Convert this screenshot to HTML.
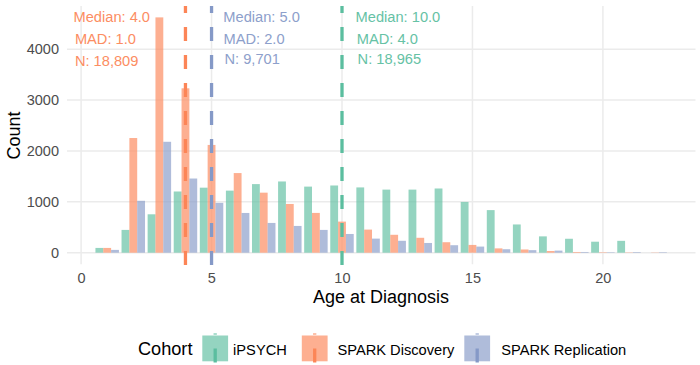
<!DOCTYPE html>
<html lang="en"><head><meta charset="utf-8"><title>Age at Diagnosis</title>
<style>html,body{margin:0;padding:0;background:#fff}svg{display:block}text{font-family:"Liberation Sans",sans-serif}</style></head><body>
<svg width="700" height="365" viewBox="0 0 700 365">
<rect width="700" height="365" fill="#fff"/>
<g stroke="#ebebeb" stroke-width="1.5" fill="none">
<line x1="67.0" x2="695.5" y1="252.70" y2="252.70"/>
<line x1="67.0" x2="695.5" y1="201.82" y2="201.82"/>
<line x1="67.0" x2="695.5" y1="150.94" y2="150.94"/>
<line x1="67.0" x2="695.5" y1="100.06" y2="100.06"/>
<line x1="67.0" x2="695.5" y1="49.18" y2="49.18"/>
<line y1="6.0" y2="264.3" x1="81.10" x2="81.10"/>
<line y1="6.0" y2="264.3" x1="211.55" x2="211.55"/>
<line y1="6.0" y2="264.3" x1="342.00" x2="342.00"/>
<line y1="6.0" y2="264.3" x1="472.45" x2="472.45"/>
<line y1="6.0" y2="264.3" x1="602.90" x2="602.90"/>
</g>
<g fill="#66C2A5" fill-opacity="0.7">
<rect x="95.45" y="247.92" width="7.83" height="4.78"/>
<rect x="121.54" y="229.91" width="7.83" height="22.79"/>
<rect x="147.63" y="214.29" width="7.83" height="38.41"/>
<rect x="173.72" y="191.49" width="7.83" height="61.21"/>
<rect x="199.81" y="187.68" width="7.83" height="65.02"/>
<rect x="225.90" y="190.63" width="7.83" height="62.07"/>
<rect x="251.99" y="184.11" width="7.83" height="68.59"/>
<rect x="278.08" y="181.47" width="7.83" height="71.23"/>
<rect x="304.17" y="186.61" width="7.83" height="66.09"/>
<rect x="330.26" y="185.49" width="7.83" height="67.21"/>
<rect x="356.35" y="187.42" width="7.83" height="65.28"/>
<rect x="382.44" y="189.61" width="7.83" height="63.09"/>
<rect x="408.53" y="189.61" width="7.83" height="63.09"/>
<rect x="434.62" y="188.49" width="7.83" height="64.21"/>
<rect x="460.71" y="201.92" width="7.83" height="50.78"/>
<rect x="486.80" y="210.11" width="7.83" height="42.59"/>
<rect x="512.89" y="224.46" width="7.83" height="28.24"/>
<rect x="538.98" y="236.37" width="7.83" height="16.33"/>
<rect x="565.07" y="238.76" width="7.83" height="13.94"/>
<rect x="591.16" y="241.71" width="7.83" height="10.99"/>
<rect x="617.25" y="240.84" width="7.83" height="11.86"/>
</g>
<g fill="#FC8D62" fill-opacity="0.7">
<rect x="103.28" y="247.92" width="7.83" height="4.78"/>
<rect x="129.37" y="138.02" width="7.83" height="114.68"/>
<rect x="155.46" y="17.38" width="7.83" height="235.32"/>
<rect x="181.55" y="88.31" width="7.83" height="164.39"/>
<rect x="207.64" y="144.94" width="7.83" height="107.76"/>
<rect x="233.73" y="173.07" width="7.83" height="79.63"/>
<rect x="259.82" y="192.66" width="7.83" height="60.04"/>
<rect x="285.91" y="203.96" width="7.83" height="48.74"/>
<rect x="312.00" y="212.91" width="7.83" height="39.79"/>
<rect x="338.09" y="221.61" width="7.83" height="31.09"/>
<rect x="364.18" y="229.60" width="7.83" height="23.10"/>
<rect x="390.27" y="234.79" width="7.83" height="17.91"/>
<rect x="416.36" y="237.79" width="7.83" height="14.91"/>
<rect x="442.45" y="242.22" width="7.83" height="10.48"/>
<rect x="468.54" y="244.92" width="7.83" height="7.78"/>
<rect x="494.63" y="248.38" width="7.83" height="4.32"/>
<rect x="520.72" y="249.49" width="7.83" height="3.21"/>
<rect x="546.81" y="251.02" width="7.83" height="1.68"/>
<rect x="572.90" y="251.99" width="7.83" height="0.71"/>
<rect x="598.99" y="252.24" width="7.83" height="0.46"/>
<rect x="625.08" y="252.39" width="7.83" height="0.31"/>
<rect x="651.17" y="252.45" width="7.83" height="0.25"/>
</g>
<g fill="#8DA0CB" fill-opacity="0.7">
<rect x="111.10" y="249.90" width="7.83" height="2.80"/>
<rect x="137.19" y="200.80" width="7.83" height="51.90"/>
<rect x="163.28" y="141.78" width="7.83" height="110.92"/>
<rect x="189.37" y="178.52" width="7.83" height="74.18"/>
<rect x="215.46" y="202.84" width="7.83" height="49.86"/>
<rect x="241.55" y="212.96" width="7.83" height="39.74"/>
<rect x="267.64" y="222.94" width="7.83" height="29.76"/>
<rect x="293.73" y="225.94" width="7.83" height="26.76"/>
<rect x="319.82" y="229.91" width="7.83" height="22.79"/>
<rect x="345.91" y="233.98" width="7.83" height="18.72"/>
<rect x="372.00" y="238.61" width="7.83" height="14.09"/>
<rect x="398.09" y="240.79" width="7.83" height="11.91"/>
<rect x="424.18" y="242.98" width="7.83" height="9.72"/>
<rect x="450.27" y="245.22" width="7.83" height="7.48"/>
<rect x="476.36" y="246.59" width="7.83" height="6.11"/>
<rect x="502.45" y="249.24" width="7.83" height="3.46"/>
<rect x="528.54" y="250.16" width="7.83" height="2.54"/>
<rect x="554.63" y="250.61" width="7.83" height="2.09"/>
<rect x="580.72" y="251.99" width="7.83" height="0.71"/>
<rect x="606.81" y="252.24" width="7.83" height="0.46"/>
<rect x="632.90" y="252.09" width="7.83" height="0.61"/>
<rect x="658.99" y="252.19" width="7.83" height="0.51"/>
</g>
<g stroke-width="3.3" stroke-dasharray="14 14" fill="none">
<line x1="342.00" x2="342.00" y1="264.9" y2="6.0" stroke="#5BBE9F"/>
<line x1="185.46" x2="185.46" y1="264.9" y2="6.0" stroke="#FC8557"/>
<line x1="211.55" x2="211.55" y1="264.9" y2="6.0" stroke="#8599C7"/>
</g>
<g font-size="14.65">
<text x="73.5" y="22.0" fill="#FC8D62">Median: 4.0</text>
<text x="74.9" y="44.1" fill="#FC8D62">MAD: 1.0</text>
<text x="74.9" y="66.1" fill="#FC8D62">N: 18,809</text>
<text x="223.3" y="22.0" fill="#8DA0CB">Median: 5.0</text>
<text x="223.5" y="44.1" fill="#8DA0CB">MAD: 2.0</text>
<text x="224.5" y="64.1" fill="#8DA0CB">N: 9,701</text>
<text x="355.6" y="22.0" fill="#66C2A5">Median: 10.0</text>
<text x="356.8" y="44.1" fill="#66C2A5">MAD: 4.0</text>
<text x="357.6" y="63.7" fill="#66C2A5">N: 18,965</text>
</g>
<g font-size="14.5" fill="#4d4d4d">
<text x="59.0" y="257.9" text-anchor="end">0</text>
<text x="59.0" y="207.0" text-anchor="end">1000</text>
<text x="59.0" y="156.1" text-anchor="end">2000</text>
<text x="59.0" y="105.3" text-anchor="end">3000</text>
<text x="59.0" y="54.4" text-anchor="end">4000</text>
<text x="81.5" y="283" text-anchor="middle">0</text>
<text x="211.9" y="283" text-anchor="middle">5</text>
<text x="342.4" y="283" text-anchor="middle">10</text>
<text x="472.9" y="283" text-anchor="middle">15</text>
<text x="603.3" y="283" text-anchor="middle">20</text>
</g>
<g font-size="18" fill="#000">
<text x="381.0" y="303.4" text-anchor="middle">Age at Diagnosis</text>
<text transform="translate(19.5,135.4) rotate(-90)" text-anchor="middle">Count</text>
<text x="137.9" y="354.8" font-size="18.2">Cohort</text>
</g>
<rect x="202.3" y="335.5" width="25.8" height="25.8" fill="#66C2A5" fill-opacity="0.7"/>
<line x1="215.2" x2="215.2" y1="362.4" y2="333.5" stroke="#5BBE9F" stroke-width="3.3" stroke-dasharray="14 14"/>
<rect x="301.8" y="335.5" width="25.8" height="25.8" fill="#FC8D62" fill-opacity="0.7"/>
<line x1="314.7" x2="314.7" y1="362.4" y2="333.5" stroke="#FC8557" stroke-width="3.3" stroke-dasharray="14 14"/>
<rect x="464.3" y="335.5" width="25.8" height="25.8" fill="#8DA0CB" fill-opacity="0.7"/>
<line x1="477.2" x2="477.2" y1="362.4" y2="333.5" stroke="#8599C7" stroke-width="3.3" stroke-dasharray="14 14"/>
<g font-size="14.65" fill="#000">
<text x="233.1" y="354.8">iPSYCH</text>
<text x="337.5" y="354.8">SPARK Discovery</text>
<text x="501.2" y="354.8">SPARK Replication</text>
</g>
</svg></body></html>
